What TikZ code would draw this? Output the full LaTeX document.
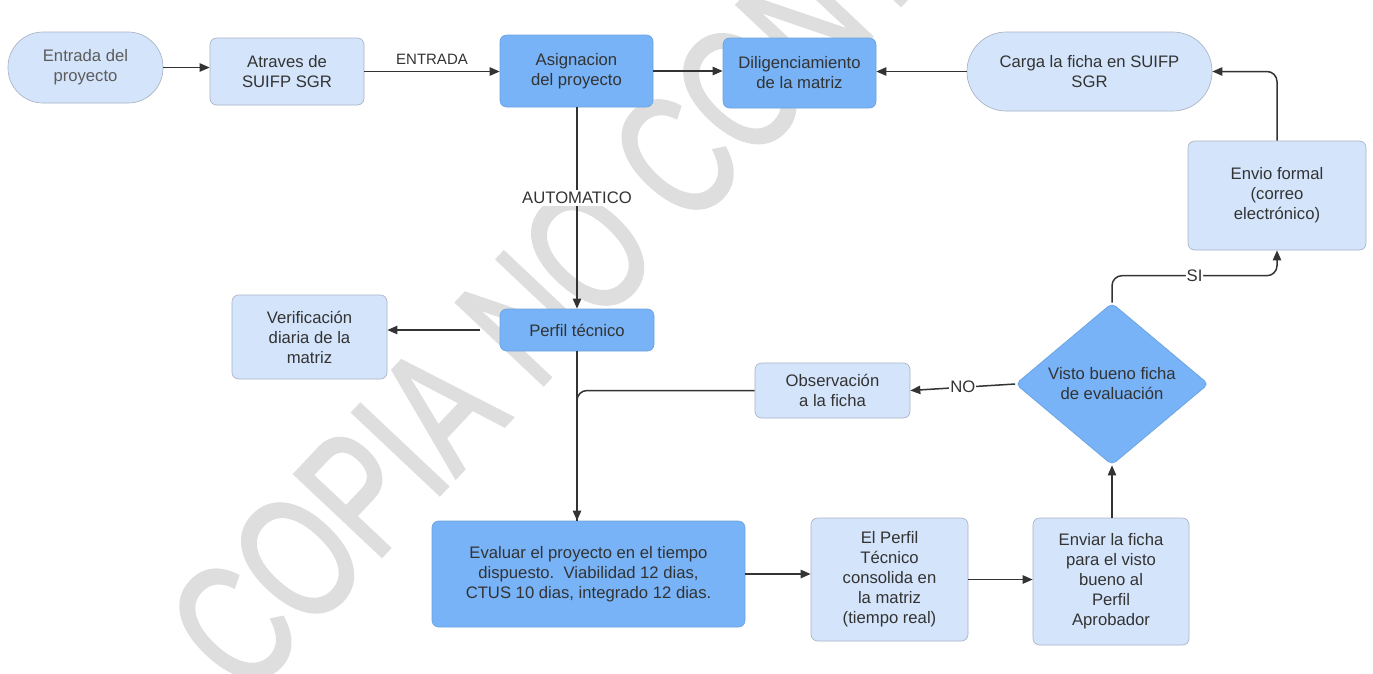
\documentclass[tikz,border=0pt]{standalone}
\usepackage{fontspec}
\setmainfont{Liberation Sans}
\newfontfamily\markfont[FakeBold=2]{Liberation Sans}
\usetikzlibrary{arrows.meta, shapes.geometric, positioning}

\definecolor{paleblue}{HTML}{D4E5FB}
\definecolor{midblue}{HTML}{77B3F6}
\definecolor{edgegray}{HTML}{A9B4C4}
\definecolor{edgeblue}{HTML}{6CA3E0}
\definecolor{inkgray}{HTML}{333333}
\definecolor{markgray}{HTML}{DEDEDE}

\tikzset{
	box/.style={draw=edgegray, fill=paleblue, rounded corners=4pt, align=center, text=inkgray, font=\fontsize{10}{12}\selectfont, inner sep=2pt},
	darkbox/.style={box, draw=edgeblue, fill=midblue},
	pill/.style={box, rounded corners=#1},
	flow/.style={draw=inkgray, line width=0.9pt, -{Triangle[length=6pt, width=5pt]}},
	tag/.style={fill=white, text=inkgray, font=\fontsize{10}{12}\selectfont, inner sep=1pt},
}

\begin{document}
\begin{tikzpicture}[x=0.6pt, y=-0.6pt]
	\useasboundingbox[fill=white] (0, 0) rectangle (1373, 673);
	\begin{scope}
		\clip (0, 0) rectangle (1373, 673);
		\node[rotate=46.7, xscale=0.72, anchor=base west, text=markgray, inner sep=0pt, font=\markfont\fontsize{104}{104}\selectfont] (watermark) at (246, 700) {COPIA NO CONTROLADA};
	\end{scope}

	\node[pill=21pt, text=inkgray!80, minimum width=93pt, minimum height=42.6pt] (entrada) at (85.5, 67.5) {Entrada del\\proyecto};
	\node[box, minimum width=92.4pt, minimum height=40.2pt] (atraves) at (287, 71.5) {Atraves de\\SUIFP SGR};
	\node[darkbox, minimum width=91.8pt, minimum height=43.2pt] (asignacion) at (576.5, 71) {Asignacion\\del proyecto};
	\node[darkbox, minimum width=91.8pt, minimum height=42pt] (diligencia) at (799.5, 73) {Diligenciamiento\\de la matriz};
	\node[pill=23.5pt, minimum width=147pt, minimum height=47.4pt] (carga) at (1089.5, 71.5) {Carga la ficha en SUIFP\\SGR};
	\node[box, minimum width=106.8pt, minimum height=65.4pt] (envio) at (1277, 195.5) {Envio formal\\(correo\\electrónico)};
	\node[darkbox, diamond, aspect=1.2, inner sep=1pt, rounded corners=3pt, minimum width=115.8pt, minimum height=97.2pt] (visto) at (1112, 384) {Visto bueno ficha\\de evaluación};
	\node[box, minimum width=93pt, minimum height=33pt] (observa) at (832.5, 390.5) {Observación\\a la ficha};
	\node[darkbox, minimum width=92.4pt, minimum height=25.2pt] (perfil) at (577, 330) {Perfil técnico};
	\node[box, minimum width=93pt, minimum height=50.4pt] (verifica) at (309.5, 337) {Verificación\\diaria de la\\matriz};
	\node[darkbox, minimum width=187.8pt, minimum height=63.6pt] (evaluar) at (588.5, 574) {Evaluar el proyecto en el tiempo\\dispuesto.\ \ Viabilidad 12 dias,\\CTUS 10 dias, integrado 12 dias.};
	\node[box, minimum width=94.2pt, minimum height=73.8pt] (consolida) at (889.5, 579.5) {El Perfil\\Técnico\\consolida en\\la matriz\\(tiempo real)};
	\node[box, minimum width=93.6pt, minimum height=76.2pt] (enviar) at (1111, 581.5) {Enviar la ficha\\para el visto\\bueno al\\Perfil\\Aprobador};

	\draw[flow] (entrada) -- (entrada -| atraves.west);
	\draw[flow] (atraves.east) -- node[above, tag, font=\fontsize{9}{11}\selectfont, fill=none, yshift=3pt] {ENTRADA} (atraves.east -| asignacion.west);
	\draw[flow] (asignacion.east) -- (asignacion.east -| diligencia.west);
	\draw[flow] (carga.west) -- (carga.west -| diligencia.east);
	\draw[flow, rounded corners=6pt] (envio.north) |- (carga.east);
	\draw[flow] (asignacion.south -| perfil.north) -- node[tag, pos=0.45] {AUTOMATICO} (perfil.north);
	\draw[flow, shorten <=12pt] (perfil.west) -- (perfil.west -| verifica.east);
	\draw[draw=inkgray, line width=0.9pt] (perfil.south) -- (perfil.south |- evaluar.north);
	\draw[flow, rounded corners=6pt] (observa.west) -| (perfil.south |- evaluar.north);
	\draw[flow] (evaluar.east) -- (evaluar.east -| consolida.west);
	\draw[flow] (consolida.east) -- (consolida.east -| enviar.west);
	\draw[flow] (enviar.north -| visto.south) -- (visto.south);
	\draw[flow] (visto.west) -- node[tag, inner sep=0.5pt] {NO} (observa.east);
	\draw[flow, rounded corners=6pt] (visto.north) -- ++(0, -27) -| node[tag, pos=0.25, inner sep=0.5pt] {SI} (envio.south);
\end{tikzpicture}
\end{document}
